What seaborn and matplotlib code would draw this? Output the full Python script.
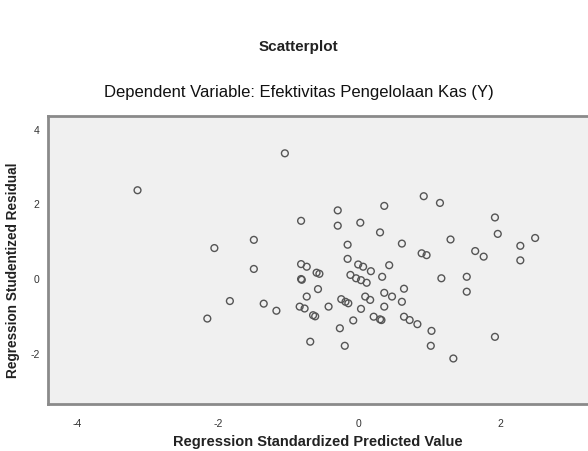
import matplotlib
matplotlib.use("Agg")
import matplotlib.pyplot as plt
import seaborn as sns
import pandas as pd

predicted = [-3.14, -1.05, -0.82, -2.05, -1.49, -1.49, -1.83, -2.15, -1.35, -1.17,
             -0.82, -0.74, -0.60, -0.56, -0.82, -0.81, -0.74, -0.58, -0.84, -0.77,
             -0.65, -0.62, -0.69, -0.43, -0.30, -0.30, 0.02, -0.16, -0.16, -0.01,
             0.06, 0.92, 1.15, 0.36, 0.30, 0.61, 1.30, 0.89, 0.96, 0.43,
             1.65, 1.77, 1.93, 1.97, 2.29, 2.50, 2.29, 1.53, 1.53, 1.93,
             1.34, 0.17, 0.33, -0.12, -0.04, 0.03, 0.11, -0.25, -0.19, -0.15,
             0.09, 0.16, 0.03, -0.08, -0.27, -0.20, 0.21, 0.32, 0.30, 0.36,
             0.47, 0.36, 0.64, 0.61, 0.64, 0.72, 0.83, 1.03, 1.02, 1.17]
residual = [2.38, 3.37, 1.56, 0.83, 1.05, 0.27, -0.59, -1.06, -0.66, -0.85,
            0.40, 0.33, 0.17, 0.14, 0.00, -0.02, -0.47, -0.27, -0.74, -0.79,
            -0.97, -1.00, -1.68, -0.74, 1.84, 1.43, 1.51, 0.92, 0.54, 0.39,
            0.33, 2.22, 2.04, 1.96, 1.25, 0.95, 1.06, 0.69, 0.64, 0.37,
            0.75, 0.60, 1.65, 1.21, 0.89, 1.10, 0.50, 0.06, -0.34, -1.55,
            -2.13, 0.21, 0.06, 0.11, 0.02, -0.03, -0.10, -0.54, -0.61, -0.65,
            -0.47, -0.56, -0.80, -1.11, -1.32, -1.79, -1.01, -1.10, -1.08, -0.37,
            -0.47, -0.74, -0.26, -0.61, -1.01, -1.10, -1.21, -1.39, -1.79, 0.02]

x_ticks = [-4, -2, 0, 2]
y_ticks = [-2, 0, 2, 4]

title_main = "Scatterplot"
title_sub = "Dependent Variable: Efektivitas Pengelolaan Kas (Y)"
x_label = "Regression Standardized Predicted Value"
y_label = "Regression Studentized Residual"

df = pd.DataFrame({"pred": predicted, "resid": residual})

sns.set_style("white")
plt.rcParams["font.family"] = ["Liberation Sans", "DejaVu Sans"]

W, H = 588, 451
fig = plt.figure(figsize=(W / 100, H / 100), dpi=100)
ax = fig.add_axes([48 / W, 1 - 404 / H, 1 - 48 / W, (404 - 116) / H])
ax.set_facecolor("#F0F0F0")

sns.scatterplot(data=df, x="pred", y="resid", ax=ax, marker="o", s=24,
                facecolor="none", edgecolor="#555555", linewidth=1.0, legend=False)

ax.set_xlim(-4.41, 3.25)
ax.set_ylim(-3.35, 4.37)
ax.set_xticks(x_ticks)
ax.set_yticks(y_ticks)
ax.set_xticklabels([str(t) for t in x_ticks])
ax.set_yticklabels([str(t) for t in y_ticks])
ax.tick_params(axis="both", direction="out", length=4, width=1, color="#777777",
               labelsize=7.5, labelcolor="#333333")
ax.tick_params(axis="x", pad=7)
ax.tick_params(axis="y", pad=2)
for side in ["left", "bottom", "top"]:
    ax.spines[side].set_visible(True)
    ax.spines[side].set_color("#8a8a8a")
    ax.spines[side].set_linewidth(2)
ax.spines["right"].set_visible(False)

ax.set_xlabel(x_label, fontsize=10.5, fontweight="bold", color="#222222", labelpad=4)
ax.set_ylabel(y_label, fontsize=9.8, fontweight="bold", color="#222222")
ax.yaxis.set_label_coords(-0.052, 0.465)

fig.text(298 / W, 1 - 47 / H, title_main, ha="center", va="center",
         fontsize=11, fontweight="bold", color="#222222")
fig.text(299 / W, 1 - 93 / H, title_sub, ha="center", va="center",
         fontsize=12, color="#111111")

fig.savefig("out.png", dpi=100, facecolor="white")
